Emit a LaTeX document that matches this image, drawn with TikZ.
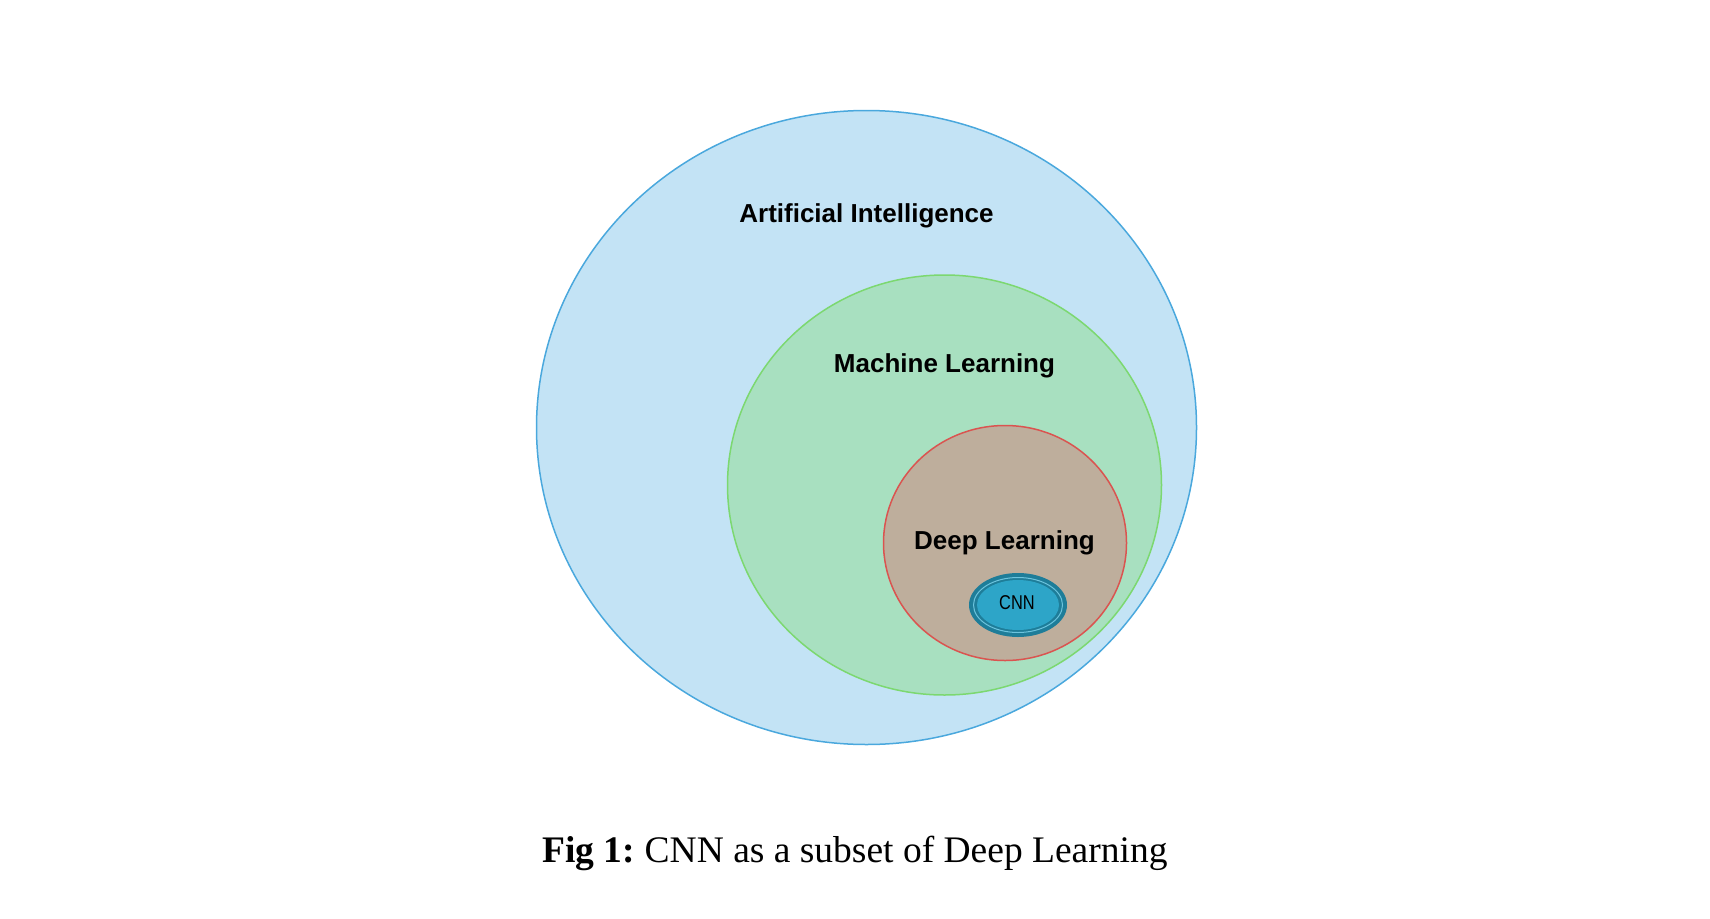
\documentclass[tikz,border=0pt]{standalone}
\usepackage{fontspec}
\setmainfont{Liberation Serif}
\newfontfamily\labfont{Liberation Sans}
\definecolor{aifill}{HTML}{C3E3F5}
\definecolor{aidraw}{HTML}{4AA8DD}
\definecolor{mlfill}{HTML}{A8E0C0}
\definecolor{mldraw}{HTML}{7CD870}
\definecolor{dlfill}{HTML}{BEAE9C}
\definecolor{dldraw}{HTML}{DA5450}
\definecolor{cnnout}{HTML}{1E7D99}
\definecolor{cnnin}{HTML}{2DA5C8}
\definecolor{cnnring}{HTML}{6CC4DE}
\tikzset{
  lab/.style={font=\labfont\bfseries\fontsize{26}{30}\selectfont, text=black, inner sep=0pt},
  setshape/.style={ellipse, draw, line width=1.5pt, inner sep=0pt},
}
\usetikzlibrary{shapes.geometric}
\begin{document}
\begin{tikzpicture}[x=1pt,y=-1pt]
\useasboundingbox (0,0) rectangle (1710,918);
\node[setshape, fill=aifill, draw=aidraw, minimum width=660, minimum height=634] (ai) at (866.5,427.5) {};
\node[setshape, fill=mlfill, draw=mldraw, minimum width=434, minimum height=420] (ml) at (944.5,485) {};
\node[setshape, fill=dlfill, draw=dldraw, minimum width=243, minimum height=235] (dl) at (1005,543) {};
\node[ellipse, fill=cnnout, inner sep=0pt, minimum width=98, minimum height=64] (cnn) at (1018,605) {};
\node[ellipse, draw=cnnring, line width=1pt, inner sep=0pt, minimum width=89, minimum height=55] (cnnr) at (1018,605) {};
\node[ellipse, fill=cnnin, inner sep=0pt, minimum width=82, minimum height=50] (cnni) at (1018,605) {};
\node[font=\labfont\fontsize{20}{22}\selectfont, xscale=0.82, inner sep=0pt] (cnnt) at (1017,603) {CNN};
\node[lab] (ait) at (866.5,216) {Artificial Intelligence};
\node[lab] (mlt) at (944.5,366) {Machine Learning};
\node[lab] (dlt) at (1004.5,543) {Deep Learning};
\node[font=\fontsize{37.5}{40}\selectfont, inner sep=0pt] (cap) at (855,853) {\textbf{Fig 1:}\hspace{-3pt} CNN as a subset of Deep Learning};
\end{tikzpicture}
\end{document}
